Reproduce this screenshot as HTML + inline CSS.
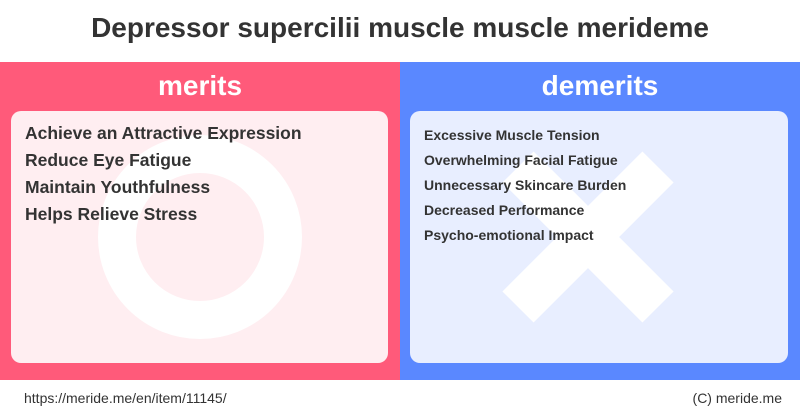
<!DOCTYPE html>
<html><head><meta charset="utf-8"><style>
body{margin:0;width:800px;height:418px;background:#fff;font-family:"Liberation Sans","DejaVu Sans",sans-serif;position:relative;overflow:hidden}
.t{position:absolute;left:0;width:800px;top:12px;text-align:center;font-size:28px;font-weight:bold;color:#333}
.p{position:absolute;top:62px;height:318px;width:400px}
.h{position:absolute;top:8px;width:100%;text-align:center;color:#fff;font-size:28px;font-weight:bold}
.b{position:absolute;top:49px;height:252px;width:377px;border-radius:10px;overflow:hidden}
.i{position:absolute;left:14px;font-weight:bold;color:#333;white-space:nowrap}
.f{position:absolute;top:390px;font-size:14px;color:#333}
</style></head><body>
<div class="t">Depressor supercilii muscle muscle merideme</div>
<div class="p" style="left:0;background:#ff5a7a">
<div class="h">merits</div>
<div class="b" style="left:11px;background:#ffeef1">
<svg width="377" height="252" style="position:absolute;left:0;top:0"><circle cx="189" cy="126" r="83" fill="none" stroke="#fff" stroke-width="38"/></svg>
<div class="i" style="top:12px;font-size:17.5px">Achieve an Attractive Expression</div>
<div class="i" style="top:39px;font-size:17.5px">Reduce Eye Fatigue</div>
<div class="i" style="top:66px;font-size:17.5px">Maintain Youthfulness</div>
<div class="i" style="top:93px;font-size:17.5px">Helps Relieve Stress</div>
</div></div>
<div class="p" style="left:400px;background:#5a88ff">
<div class="h">demerits</div>
<div class="b" style="left:10px;width:378px;background:#e8eeff">
<svg width="378" height="252" style="position:absolute;left:0;top:0"><path d="M108 56 L248 196 M248 56 L108 196" stroke="#fff" stroke-width="44"/></svg>
<div class="i" style="top:16px;font-size:14px">Excessive Muscle Tension</div>
<div class="i" style="top:41px;font-size:14px">Overwhelming Facial Fatigue</div>
<div class="i" style="top:66px;font-size:14px">Unnecessary Skincare Burden</div>
<div class="i" style="top:91px;font-size:14px">Decreased Performance</div>
<div class="i" style="top:116px;font-size:14px">Psycho-emotional Impact</div>
</div></div>
<div class="f" style="left:24px">https://meride.me/en/item/11145/</div>
<div class="f" style="right:18px">(C) meride.me</div>
</body></html>
